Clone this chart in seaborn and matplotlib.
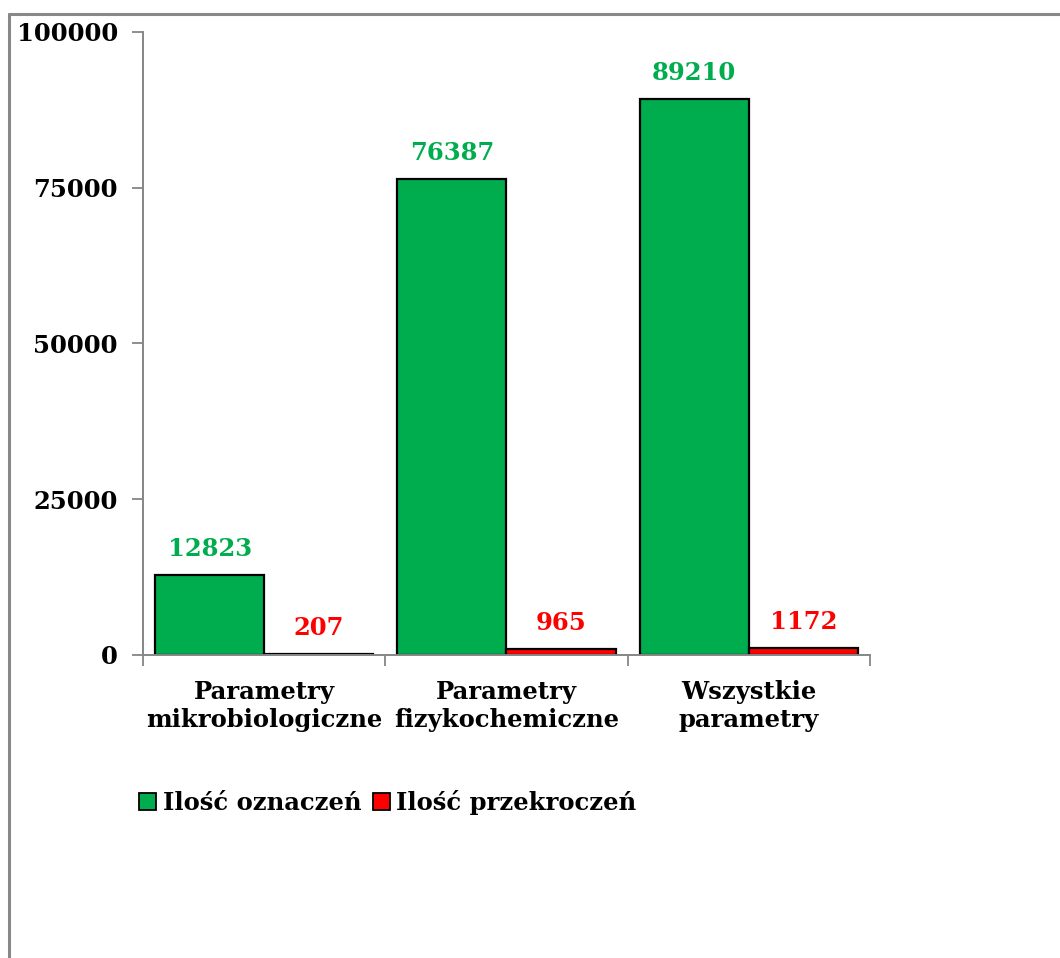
import matplotlib
matplotlib.use("Agg")
import matplotlib.pyplot as plt
import seaborn as sns
import pandas as pd
from matplotlib.patches import Patch
from matplotlib.lines import Line2D

categories = ["Parametry\nmikrobiologiczne", "Parametry\nfizykochemiczne", "Wszystkie\nparametry"]
series_names = ["Ilość oznaczeń", "Ilość przekroczeń"]
oznaczenia = [12823, 76387, 89210]
przekroczenia = [207, 965, 1172]
y_ticks = [0, 25000, 50000, 75000, 100000]

colors = {"Ilość oznaczeń": "#00AD4E", "Ilość przekroczeń": "#FF0000"}

df = pd.DataFrame({
    "kategoria": categories * 2,
    "seria": [series_names[0]] * 3 + [series_names[1]] * 3,
    "wartosc": oznaczenia + przekroczenia,
})

sns.set_style("white")
plt.rcParams.update({
    "font.family": ["DejaVu Serif"],
    "font.weight": "bold",
    "text.color": "black",
    "xtick.color": "#868686",
    "ytick.color": "#868686",
    "xtick.labelcolor": "black",
    "ytick.labelcolor": "black",
    "ytick.left": True,
    "xtick.bottom": True,
})

fig = plt.figure(figsize=(10.6, 9.58), dpi=100)
ax = fig.add_axes([0.1349, 0.3163, 0.6858, 0.6503])

sns.barplot(data=df, x="kategoria", y="wartosc", hue="seria", order=categories,
            hue_order=series_names, palette=colors, width=0.9, dodge=True,
            edgecolor="black", linewidth=1.6, saturation=1, legend=False, ax=ax)

# value labels above each bar
for container, name in zip(ax.containers, series_names):
    ax.bar_label(container, labels=[f"{v:.0f}" for v in container.datavalues],
                 padding=10, color=colors[name], fontsize=17.5, fontweight="bold")

ax.set_ylim(0, 100000)
ax.set_xlim(-0.5, 2.5)
ax.set_yticks(y_ticks)
ax.set_yticklabels([str(t) for t in y_ticks], fontsize=17.5, fontweight="bold")
ax.set_xticklabels(categories, fontsize=17.5, fontweight="bold", linespacing=1.2)
ax.set_xlabel("")
ax.set_ylabel("")

# category boundary ticks on the x axis
ax.set_xticks([-0.5, 0.5, 1.5, 2.5], minor=True)
ax.tick_params(axis="x", which="major", length=0, pad=18)
ax.tick_params(axis="x", which="minor", length=8, width=1.3, color="#868686", direction="out", bottom=True)
ax.tick_params(axis="y", which="major", length=8, width=1.3, color="#868686", direction="out", pad=10, left=True)

for side in ["top", "right"]:
    ax.spines[side].set_visible(False)
for side in ["left", "bottom"]:
    ax.spines[side].set_color("#868686")
    ax.spines[side].set_linewidth(1.4)

handles = [Patch(facecolor=colors[n], edgecolor="black", linewidth=1.3) for n in series_names]
fig.legend(handles, series_names, loc="center", bbox_to_anchor=(0.366, 0.162), ncol=2,
           frameon=False, prop={"size": 17.5, "weight": "bold"},
           handlelength=0.7, handleheight=0.7, handletextpad=0.25, columnspacing=0.5)

# outer chart frame
fig.add_artist(Line2D([0.0085, 0.0085], [0.0, 0.985], transform=fig.transFigure, color="#888888", linewidth=2.2))
fig.add_artist(Line2D([0.0085, 1.0], [0.985, 0.985], transform=fig.transFigure, color="#888888", linewidth=2.2))

fig.savefig("out.png", dpi=100, facecolor="white")
